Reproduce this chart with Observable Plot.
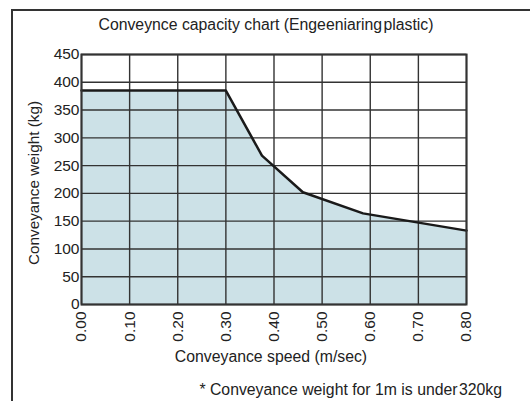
<!DOCTYPE html>
<html><head><meta charset="utf-8">
<script src="https://cdn.jsdelivr.net/npm/d3@7"></script>
<script src="https://cdn.jsdelivr.net/npm/@observablehq/plot@0.6"></script>
<style>
html,body{margin:0;padding:0;background:#fff;}
#wrap{position:relative;width:530px;height:401px;overflow:hidden;font-family:"Liberation Sans",Arial,sans-serif;color:#222;}
#border{position:absolute;left:11px;top:9px;width:600px;height:500px;border-left:2px solid #333;border-top:2px solid #333;}
.t{position:absolute;white-space:nowrap;font-size:15.8px;}
.tight{margin-left:-3px;}
#chart{position:absolute;left:0;top:0;}
#chart svg text{font-size:15.5px;}
</style></head>
<body><div id="wrap"><div id="border"></div><div id="chart"></div>
<div class="t" id="title" style="left:0;width:532px;text-align:center;top:16px;">Conveynce capacity chart (Engeeniaring <span class="tight">plastic)</span></div>
<div class="t" id="xlab" style="left:0;width:542px;text-align:center;top:348px;">Conveyance speed (m/sec)</div>
<div class="t" id="foot" style="right:28px;top:381px;">* Conveyance weight for 1m is under <span class="tight">320kg</span></div>
<div class="t" id="ylab" style="left:34px;top:183px;font-size:15.3px;transform:translate(-50%,-50%) rotate(-90deg);">Conveyance weight (kg)</div>
</div>
<script>
const speed = [0.00, 0.30, 0.375, 0.46, 0.585, 0.80];
const weight = [385, 385, 268, 202, 164, 133];
const xTicks = [0, 0.1, 0.2, 0.3, 0.4, 0.5, 0.6, 0.7, 0.8];
const yTicks = [0, 50, 100, 150, 200, 250, 300, 350, 400, 450];
const data = speed.map((s, i) => ({s, w: weight[i]}));

const chart = Plot.plot({
  width: 530, height: 401,
  marginTop: 54, marginLeft: 81, marginRight: 64, marginBottom: 97,
  style: {fontFamily: "Liberation Sans, Arial, sans-serif", fontSize: "15.5px", color: "#222", background: "transparent"},
  x: {domain: [0, 0.8]},
  y: {domain: [0, 450]},
  marks: [
    Plot.areaY(data, {x: "s", y: "w", fill: "#cce1e7"}),
    Plot.ruleX(xTicks, {x: d => d, stroke: "#333", strokeWidth: 1.4}),
    Plot.ruleY(yTicks, {y: d => d, stroke: "#333", strokeWidth: 1.4}),
    Plot.lineY(data, {x: "s", y: "w", stroke: "#1a1a1a", strokeWidth: 2.5}),
    Plot.frame({stroke: "#333", strokeWidth: 2}),
    Plot.axisX({ticks: xTicks, tickFormat: d => d.toFixed(2), tickRotate: -90, tickSize: 0, tickPadding: 7, label: null}),
    Plot.axisY({ticks: yTicks, tickSize: 0, tickPadding: 2, label: null})
  ]
});
document.getElementById("chart").appendChild(chart);
</script></body></html>
